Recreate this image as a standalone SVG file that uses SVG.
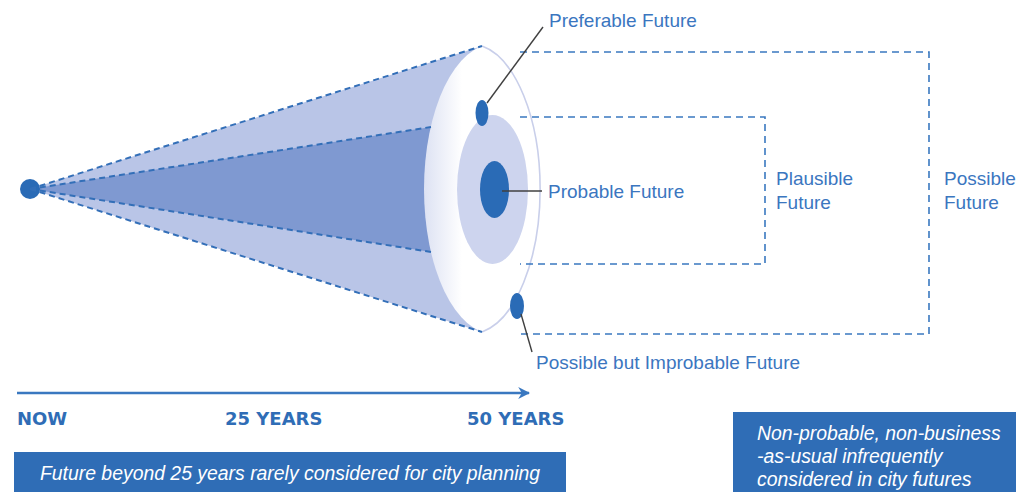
<svg xmlns="http://www.w3.org/2000/svg" width="1016" height="492" viewBox="0 0 1016 492">
<defs>
<style>
.lbl{font-family:"Liberation Sans",Arial,sans-serif;font-size:19px;fill:#3b76bf}
.yr{font-family:"DejaVu Sans",sans-serif;font-weight:bold;font-size:18px;fill:#2f6db6}
.box{fill:#2f6db6}
.boxt{font-family:"Liberation Sans",Arial,sans-serif;font-size:19.4px;font-style:italic;fill:#ffffff}
.edge{fill:none;stroke:#336fb8;stroke-width:2;stroke-dasharray:6 4}
.frame{fill:none;stroke:#3a78c0;stroke-width:1.6;stroke-dasharray:7 5}
.lead{fill:none;stroke:#404040;stroke-width:1.4}
.dot{fill:#2a6bb6}
</style>
<linearGradient id="shade" x1="424" y1="0" x2="462" y2="0" gradientUnits="userSpaceOnUse">
<stop offset="0" stop-color="#dde2f3"/>
<stop offset="1" stop-color="#ffffff"/>
</linearGradient>
<marker id="ah" viewBox="0 0 10 10" refX="9" refY="5" markerWidth="5" markerHeight="5" orient="auto" markerUnits="strokeWidth">
<path d="M0,0 L10,5 L0,10 L3,5 Z" fill="#3a78c0"/>
</marker>
</defs>

<g id="cone">
<polygon points="30,189 482,46 482,332" fill="#b9c5e7"/>
<polygon points="30,189 431,127 431,252" fill="#7f99d1"/>
</g>

<g id="disc">
<ellipse cx="494" cy="189" rx="70" ry="145" fill="url(#shade)"/>
<path d="M482,46.1 A70,145 0 0 1 482,331.9" fill="none" stroke="#c9cfea" stroke-width="1.6"/>
</g>

<g id="plausible-disc">
<ellipse cx="492.5" cy="189.5" rx="35.5" ry="74.5" fill="#cdd4ee"/>
</g>

<g id="probable-dot">
<ellipse class="dot" cx="494.5" cy="189.5" rx="14.5" ry="28.5"/>
</g>
<g id="preferable-dot">
<ellipse class="dot" cx="482" cy="113" rx="6.5" ry="13"/>
</g>
<g id="improbable-dot">
<ellipse class="dot" cx="517" cy="306" rx="7" ry="13"/>
</g>
<g id="now-dot">
<circle class="dot" cx="30" cy="189" r="10"/>
</g>

<g id="connectors">
<path class="edge" d="M30,189 L482,46"/>
<path class="edge" d="M30,189 L482,332"/>
<path class="edge" d="M30,189 L431,127"/>
<path class="edge" d="M30,189 L431,252"/>
<path class="frame" d="M520,52 H929 V334 H520"/>
<path class="frame" d="M520,117 H765 V264 H520"/>
<path class="lead" d="M487,103 L543,27"/>
<path class="lead" d="M502,191 L542,191"/>
<path class="lead" d="M521,314 L532,352"/>
<path d="M17,393 H529" stroke="#3a78c0" stroke-width="2.4" fill="none" marker-end="url(#ah)"/>
</g>

<g id="labels">
<text class="lbl" x="549" y="27">Preferable Future</text>
<text class="lbl" x="548" y="198">Probable Future</text>
<text class="lbl" x="536" y="369">Possible but Improbable Future</text>
<text class="lbl" x="776" y="185">Plausible</text>
<text class="lbl" x="776" y="209">Future</text>
<text class="lbl" x="944" y="185">Possible</text>
<text class="lbl" x="944" y="209">Future</text>
</g>

<g id="timeline">
<text class="yr" x="17" y="425">NOW</text>
<text class="yr" x="225" y="425">25 YEARS</text>
<text class="yr" x="467" y="425">50 YEARS</text>
</g>

<g id="note-left">
<rect class="box" x="14" y="452" width="552" height="40"/>
<text class="boxt" x="290" y="480" text-anchor="middle">Future beyond 25 years rarely considered for city planning</text>
</g>

<g id="note-right">
<rect class="box" x="733" y="412" width="283" height="80"/>
<text class="boxt" x="757" y="440">Non-probable, non-business</text>
<text class="boxt" x="757" y="463">-as-usual infrequently</text>
<text class="boxt" x="757" y="486">considered in city futures</text>
</g>
</svg>
